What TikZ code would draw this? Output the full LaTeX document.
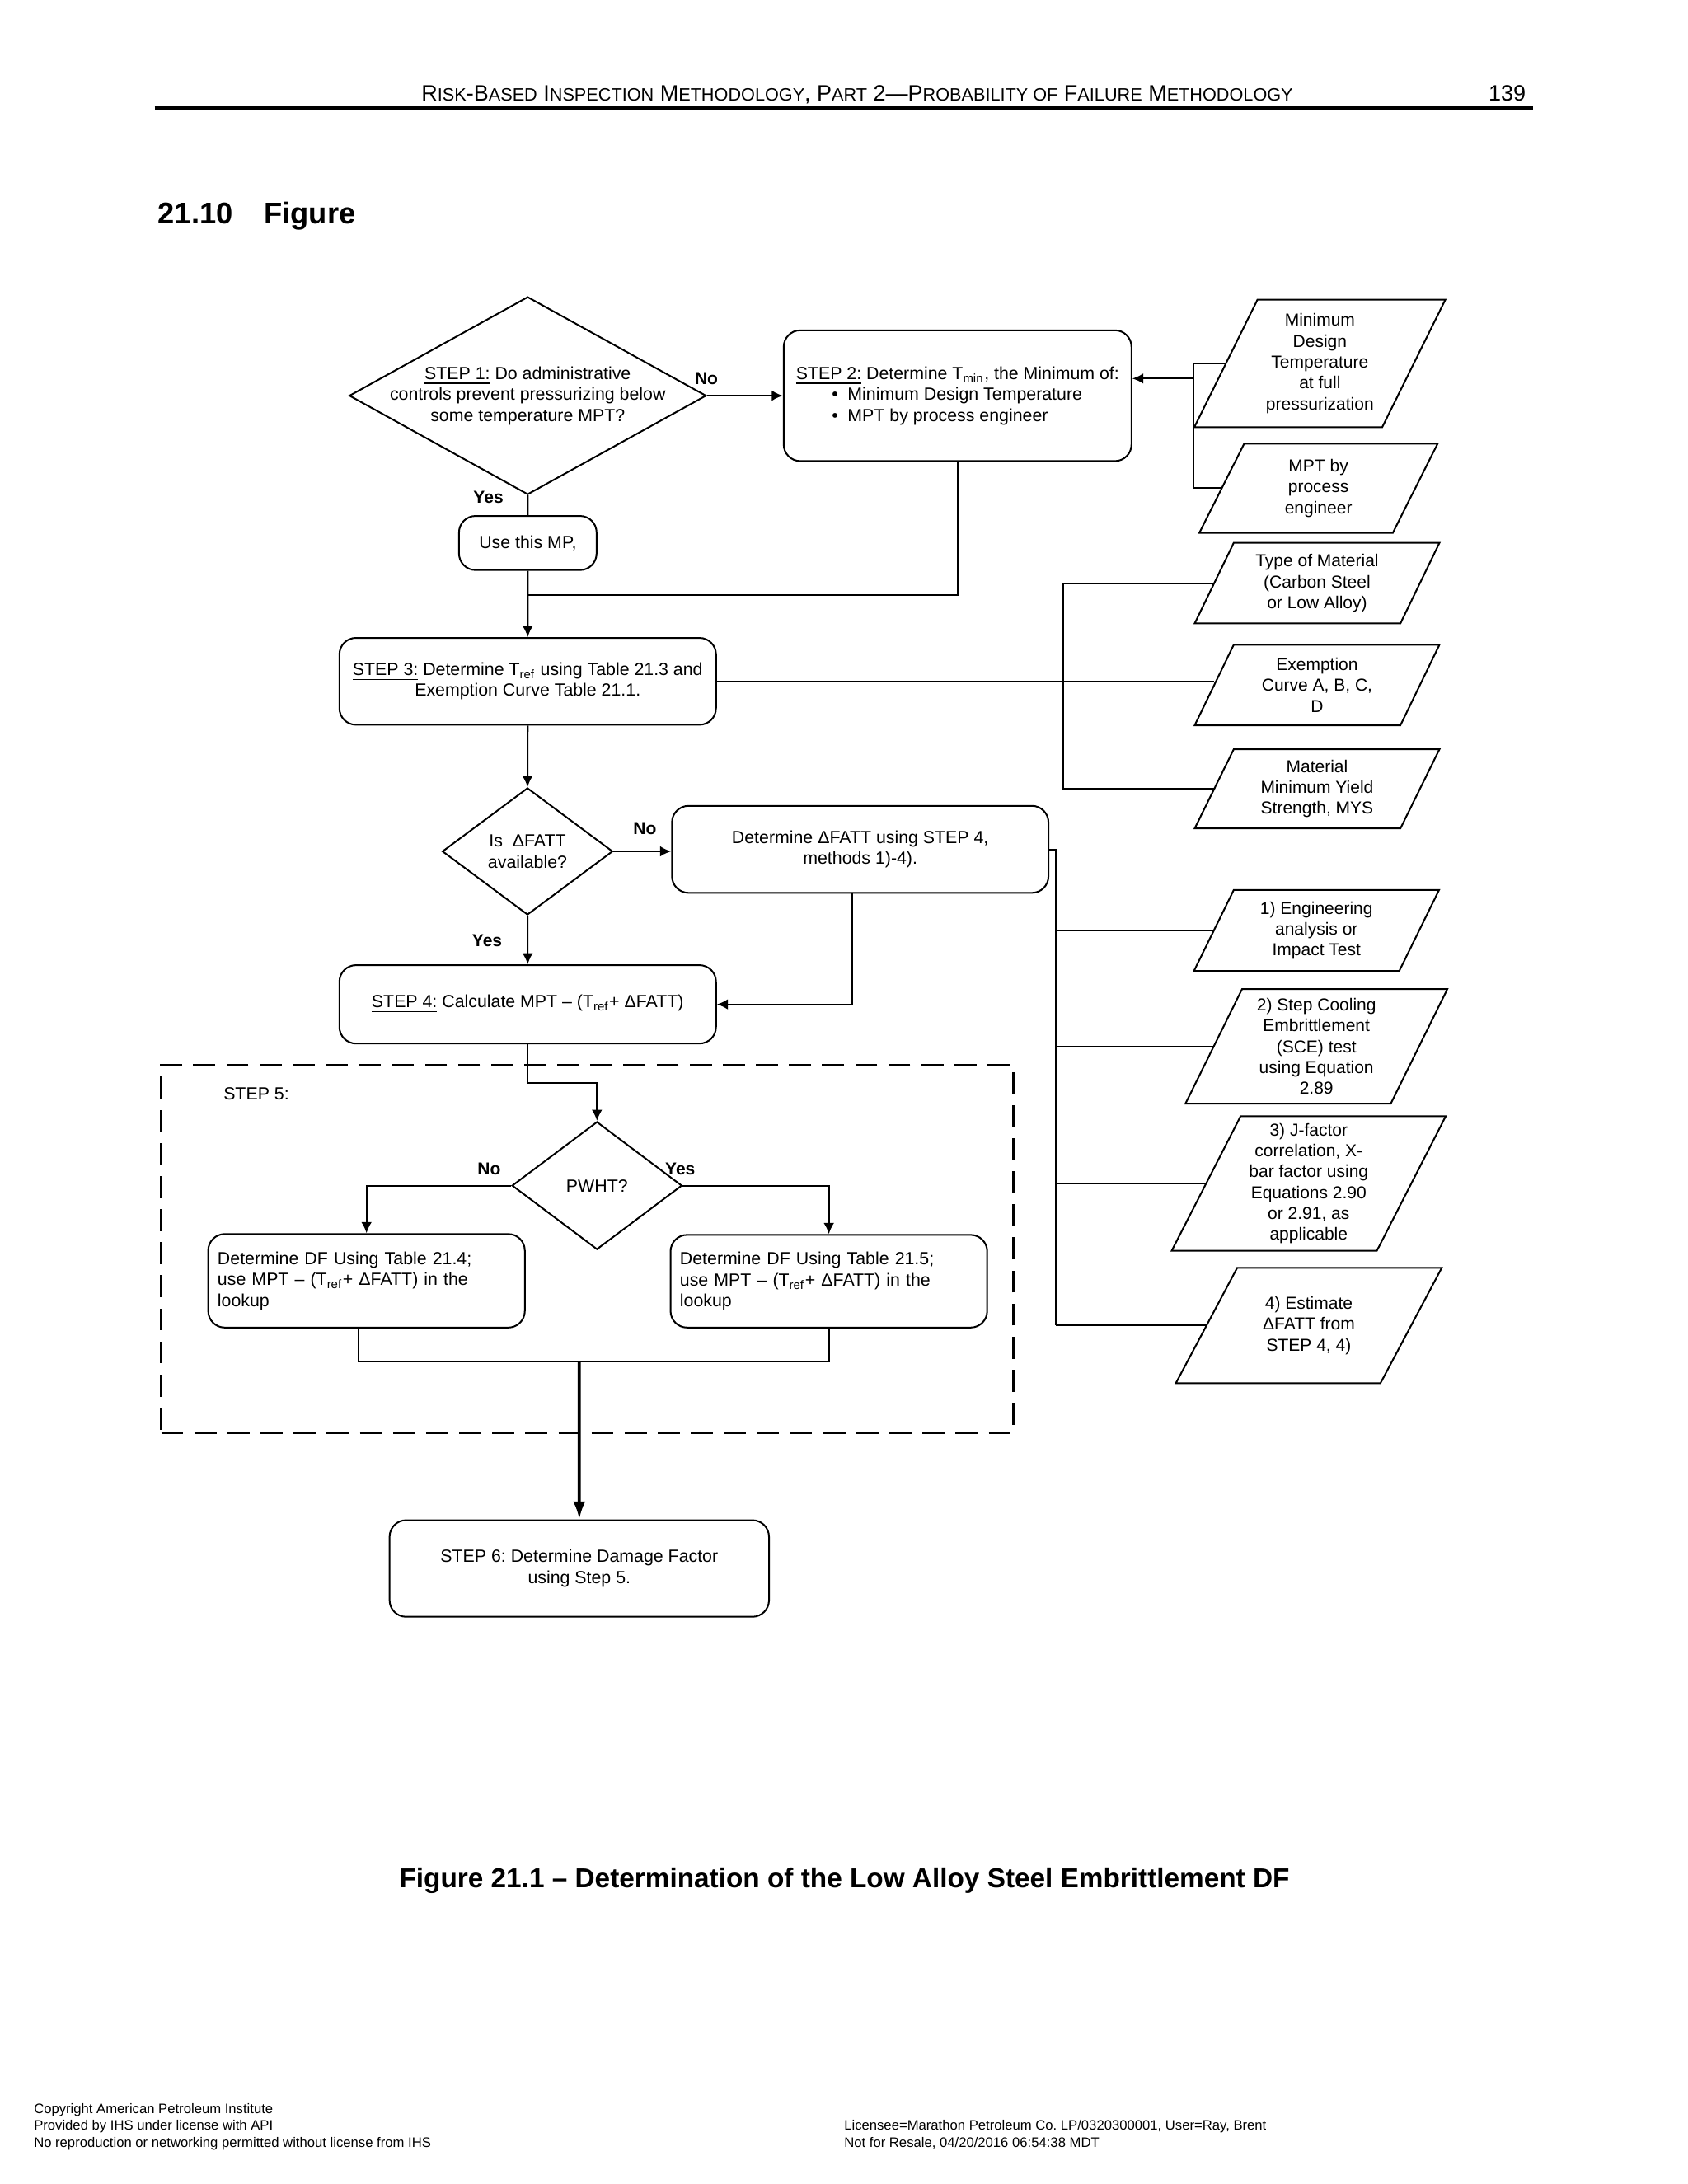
\documentclass[tikz,border=0pt]{standalone}
\usepackage{fontspec}
\setmainfont{Liberation Sans}
\usetikzlibrary{shapes.geometric,arrows.meta}

\newlength{\gridu}
\setlength{\gridu}{0.50537bp}

\newcommand{\flowfont}{\fontsize{6.4}{7.65}\selectfont}
\newcommand{\inputfont}{\fontsize{6.3}{7.6}\selectfont}
\newcommand{\branchfont}{\fontsize{6.3}{7.6}\selectfont\bfseries}
\newcommand{\hsc}[1]{{\fontsize{6.5}{8}\selectfont\MakeUppercase{#1}}}
\newcommand{\Tref}{T\textsubscript{ref}}

\tikzset{
  flowline/.style={line width=0.6bp},
  flowarrow/.style={flowline, -{Latex[length=4bp,width=3.8bp]}},
  mainarrow/.style={line width=1.1bp, -{Latex[length=6.5bp,width=4.5bp]}},
  stepbox/.style={draw, line width=0.6bp, rounded corners=6bp, inner sep=0pt, align=center, font=\flowfont},
  lookupbox/.style={stepbox, align=left, text width=108bp, inner xsep=3.4bp},
  decision/.style={draw, diamond, line width=0.6bp, inner sep=0pt},
  dtext/.style={inner sep=0pt, align=center, font=\flowfont},
  datain/.style={inner sep=0pt, align=center, font=\inputfont},
  branch/.style={inner sep=0pt, font=\branchfont},
  stepframe/.style={draw, line width=0.7bp, dash pattern=on 8bp off 4bp, inner sep=0pt},
  pagetext/.style={inner sep=0pt}
}

\begin{document}
\frenchspacing
\begin{tikzpicture}[x=0.50537bp, y=-0.50537bp]
    \useasboundingbox[fill=white] (0,0) rectangle (1211,1567);

    % Page head
    \node[pagetext, anchor=base, font=\fontsize{8.1}{9.6}\selectfont] (runhead) at (615,72.7)
        {R\hsc{isk}-B\hsc{ased} I\hsc{nspection} M\hsc{ethodology}, P\hsc{art} 2—P\hsc{robability of} F\hsc{ailure} M\hsc{ethodology}};
    \node[pagetext, anchor=base east, font=\fontsize{8.1}{9.6}\selectfont] (pageno) at (1095,72.7) {139};
    \draw[line width=1bp] (111,77.5) -- (1100,77.5);
    \node[pagetext, anchor=base west, font=\fontsize{10.9}{13}\selectfont\bfseries] (secnum) at (113,160.7) {21.10};
    \node[pagetext, anchor=base west, font=\fontsize{10.9}{13}\selectfont\bfseries] (sectitle) at (189,160.7) {Figure};

    % Main steps
    \node[decision, minimum width=256.1*\gridu, minimum height=141.9*\gridu,
          label={[dtext]center:{\underline{STEP 1:} Do administrative\\controls prevent pressurizing below\\some temperature MPT?}}] (step1) at (378.6,283.9) {};
    \node[stepbox, align=left, minimum width=249.5*\gridu, minimum height=93.8*\gridu] (step2) at (687,283.9)
        {\underline{STEP 2:} Determine T\textsubscript{min}, the Minimum of:\\\hspace*{13bp}\textbullet\hspace{3.5bp}Minimum Design Temperature\\\hspace*{13bp}\textbullet\hspace{3.5bp}MPT by process engineer};
    \node[stepbox, minimum width=98.7*\gridu, minimum height=38.8*\gridu] (usemp) at (378.65,389.6) {Use this MP,};
    \node[stepbox, minimum width=270.2*\gridu, minimum height=62.3*\gridu] (step3) at (378.6,488.85)
        {\underline{STEP 3:} Determine \Tref{} using Table 21.3 and\\Exemption Curve Table 21.1.};
    \node[decision, minimum width=122.3*\gridu, minimum height=91.1*\gridu,
          label={[dtext]center:{Is\ \ ΔFATT\\available?}}] (fatt) at (378.45,610.85) {};
    \node[stepbox, minimum width=270.1*\gridu, minimum height=62.4*\gridu] (detfatt) at (617.15,609.4)
        {Determine ΔFATT using STEP 4,\\methods 1)-4).};
    \node[stepbox, minimum width=270.2*\gridu, minimum height=56.2*\gridu] (step4) at (378.6,720.6)
        {\underline{STEP 4:} Calculate MPT – (\Tref+ ΔFATT)};

    % Step 5 frame
    \node[stepframe, minimum width=611.3*\gridu, minimum height=264.6*\gridu] (step5) at (421.35,896.1) {};
    \node[anchor=base west, inner sep=0pt, font=\flowfont] (step5lbl) at (160,789.3) {\underline{STEP 5:}};
    \node[decision, minimum width=121.9*\gridu, minimum height=91.7*\gridu,
          label={[dtext]center:{PWHT?}}] (pwht) at (428.3,850.65) {};
    \node[lookupbox, minimum height=67.1*\gridu] (dfno) at (262.95,918.95)
        {Determine DF Using Table 21.4;\\use MPT – (\Tref+ ΔFATT) in the\\lookup};
    \node[lookupbox, minimum height=66.5*\gridu] (dfyes) at (594.65,919.25)
        {Determine DF Using Table 21.5;\\use MPT – (\Tref+ ΔFATT) in the\\lookup};
    \node[stepbox, minimum width=272.2*\gridu, minimum height=69.3*\gridu] (step6) at (415.6,1125.35)
        {STEP 6: Determine Damage Factor\\using Step 5.};

    % Inputs
    \node[datain, minimum width=134*\gridu, minimum height=90.7*\gridu] (p1) at (946.9,260.75)
        {Minimum\\Design\\Temperature\\at full\\pressurization};
    \node[datain, minimum width=138*\gridu, minimum height=63.3*\gridu] (p2) at (945.9,350.35)
        {MPT by\\process\\engineer};
    \node[datain, minimum width=146.8*\gridu, minimum height=57*\gridu] (p3) at (944.9,418.4)
        {Type of Material\\(Carbon Steel\\or Low Alloy)};
    \node[datain, minimum width=146.8*\gridu, minimum height=57*\gridu] (p4) at (944.9,491.5)
        {Exemption\\Curve A, B, C,\\D};
    \node[datain, minimum width=146.8*\gridu, minimum height=56*\gridu] (p5) at (944.9,566)
        {Material\\Minimum Yield\\Strength, MYS};
    \node[datain, minimum width=146.5*\gridu, minimum height=57.2*\gridu] (p6) at (944.5,667.6)
        {1) Engineering\\analysis or\\Impact Test};
    \node[datain, minimum width=146.5*\gridu, minimum height=81.4*\gridu] (p7) at (944.45,750.7)
        {2) Step Cooling\\Embrittlement\\(SCE) test\\using Equation\\2.89};
    \node[datain, minimum width=146.4*\gridu, minimum height=95.7*\gridu] (p8) at (938.9,849.15)
        {3) J-factor\\correlation, X-\\bar factor using\\Equations 2.90\\or 2.91, as\\applicable};
    \node[datain, minimum width=146*\gridu, minimum height=82*\gridu] (p9) at (939,951)
        {4) Estimate\\ΔFATT from\\STEP 4, 4)};

    % Parallelogram outlines round the inputs
    \foreach \p/\s in {p1/22.65, p2/16.1, p3/14, p4/14, p5/14, p6/14.25, p7/20.3, p8/24.7, p9/22} {
        \draw[flowline] ([xshift=-\s*\gridu]\p.south west) -- ([xshift=\s*\gridu]\p.north west)
            -- ([xshift=\s*\gridu]\p.north east) -- ([xshift=-\s*\gridu]\p.south east) -- cycle;
    }

    % Yes / No labels
    \node[branch] (no1) at (506.8,271.6) {No};
    \node[branch] (yes1) at (350.4,356.8) {Yes};
    \node[branch] (no2) at (462.7,594.3) {No};
    \node[branch] (yes2) at (349.5,675.2) {Yes};
    \node[branch] (no3) at (350.9,838.8) {No};
    \node[branch] (yes3) at (488,838.8) {Yes};

    % Connectors
    \coordinate (join23) at (378.6,426.8);
    \coordinate (bus2) at (856.5,271.6);
    \coordinate (bus3) at (762.5,418.4);
    \coordinate (bus4) at (757.5,609.4);
    \coordinate (bend5) at (428.3,777.2);
    \coordinate (merge5) at (415.5,977);

    \draw[flowarrow] (step1.east) -- (step2.west);
    \draw[flowline] (step1.south) -- (usemp.north);
    \draw[flowarrow] (usemp.south) -- (step3.north);
    \draw[flowline] (step2.south) |- (join23);

    \draw[flowarrow] (bus2) -- (bus2 -| step2.east);
    \draw[flowline] (p1.west) -| (bus2 |- p2.west) -- (p2.west);

    \draw[flowline] (p3.west) -| (bus3 |- p5.west) -- (p5.west);
    \draw[flowline] (step3.east) -- (step3.east -| p4.west);

    \draw[flowarrow] (step3.south) -- (fatt.north);
    \draw[flowarrow] (fatt.east) -- (fatt.east -| detfatt.west);
    \draw[flowarrow] (fatt.south) -- (step4.north);
    \draw[flowarrow] ([xshift=-3bp]detfatt.south) |- (step4.east);

    \draw[flowline] (detfatt.east) -- (bus4) -- (bus4 |- p9.west);
    \foreach \p in {p6,p7,p8,p9} {
        \draw[flowline] (bus4 |- \p.west) -- (\p.west);
    }

    \draw[flowarrow] (step4.south) |- (bend5) -- (pwht.north);
    \draw[flowarrow] (pwht.west) -| (dfno.north);
    \draw[flowarrow] (pwht.east) -| (dfyes.north);
    \draw[flowline] ([xshift=-3bp]dfno.south) |- (merge5) -| (dfyes.south);
    \draw[mainarrow] (merge5) -- (step6.north);

    % Caption
    \node[pagetext, anchor=base, font=\fontsize{10}{12}\selectfont\bfseries] (caption) at (605.85,1354.4)
        {Figure 21.1 – Determination of the Low Alloy Steel Embrittlement DF};

    % Page foot
    \foreach \y/\t [count=\i] in {1516.5/Copyright American Petroleum Institute,
                                  1528.5/Provided by IHS under license with API,
                                  1540.5/No reproduction or networking permitted without license from IHS} {
        \node[pagetext, anchor=base west, font=\fontsize{5}{6}\selectfont] (footl\i) at (24,\y) {\t};
    }
    \node[pagetext, anchor=base west, font=\fontsize{5}{6}\selectfont] (footr1) at (605.3,1528.5)
        {Licensee=Marathon Petroleum Co. LP/0320300001, User=Ray, Brent};
    \node[pagetext, anchor=base west, font=\fontsize{5}{6}\selectfont] (footr2) at (605.3,1540.5)
        {Not for Resale, 04/20/2016 06:54:38 MDT};
\end{tikzpicture}
\end{document}
